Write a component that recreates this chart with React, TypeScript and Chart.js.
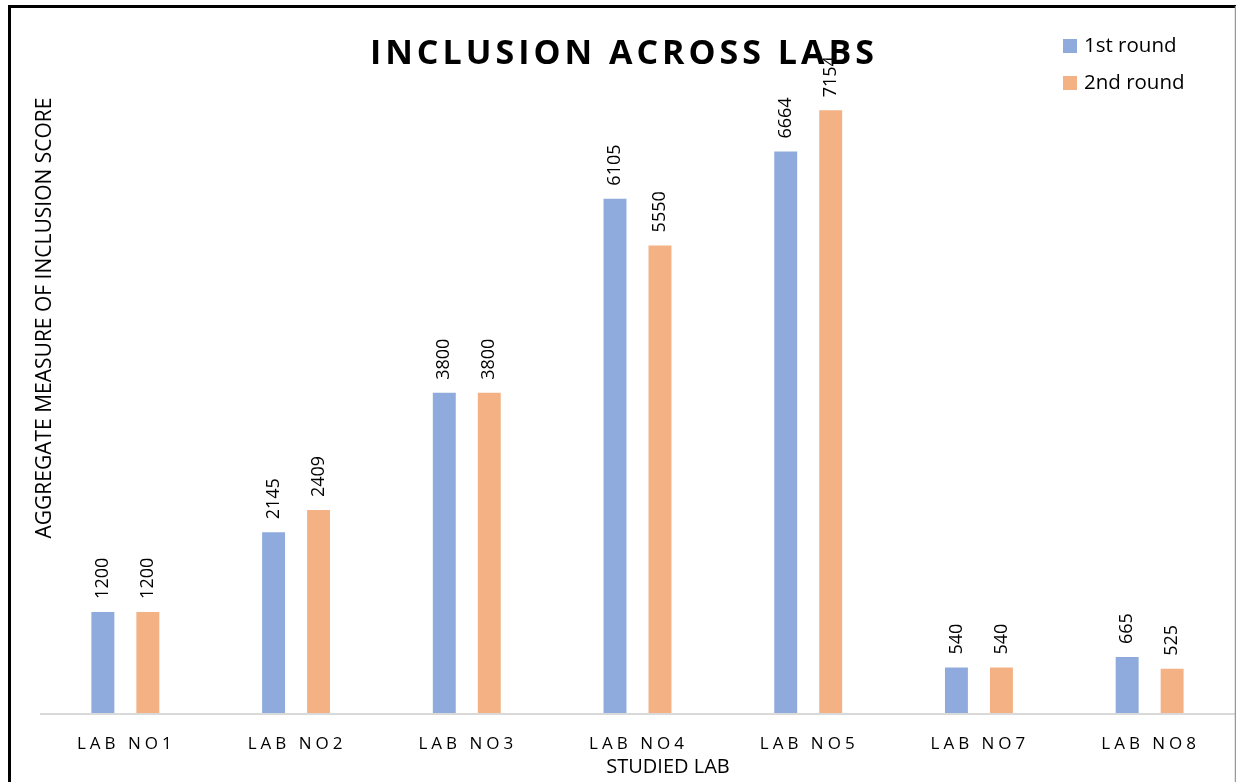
import React, { useEffect, useRef } from "react";
import { Chart, registerables } from "chart.js";

Chart.register(...registerables);

const labs = ["LAB NO1", "LAB NO2", "LAB NO3", "LAB NO4", "LAB NO5", "LAB NO7", "LAB NO8"];
const round1 = [1200, 2145, 3800, 6105, 6664, 540, 665];
const round2 = [1200, 2409, 3800, 5550, 7154, 540, 525];
const seriesNames = ["1st round", "2nd round"];
const seriesColors = ["#8FAADC", "#F4B183"];
const chartTitle = "INCLUSION ACROSS LABS";
const xTitle = "STUDIED LAB";
const yTitle = "AGGREGATE MEASURE OF INCLUSION SCORE";
const yMax = 8000;

const FONT = "'Open Sans', 'Noto Sans', sans-serif";

const decorPlugin = {
  id: "decor",
  beforeDraw(chart: any) {
    const ctx = chart.ctx;
    ctx.save();
    ctx.fillStyle = "#ffffff";
    ctx.fillRect(0, 0, chart.width, chart.height);
    ctx.restore();
  },
  afterDraw(chart: any) {
    const ctx: CanvasRenderingContext2D = chart.ctx;
    const xs = chart.scales.x;
    const ys = chart.scales.y;
    const area = chart.chartArea;
    const W = chart.width;
    const H = chart.height;

    // axis line
    const y0 = ys.getPixelForValue(0);
    ctx.save();
    ctx.strokeStyle = "#D9D9D9";
    ctx.lineWidth = 2;
    ctx.beginPath();
    ctx.moveTo(area.left, y0 + 1);
    ctx.lineTo(W, y0 + 1);
    ctx.stroke();
    ctx.restore();

    // x tick labels
    ctx.save();
    ctx.fillStyle = "#000000";
    ctx.font = `17px ${FONT}`;
    (ctx as any).letterSpacing = "4px";
    ctx.textAlign = "center";
    ctx.textBaseline = "middle";
    labs.forEach((lab, i) => {
      ctx.fillText(lab, xs.getPixelForValue(i) + 1, 744);
    });
    ctx.restore();

    // data labels
    ctx.save();
    ctx.fillStyle = "#000000";
    ctx.font = `18px ${FONT}`;
    ctx.textAlign = "left";
    ctx.textBaseline = "middle";
    chart.data.datasets.forEach((ds: any, di: number) => {
      const meta = chart.getDatasetMeta(di);
      meta.data.forEach((el: any, i: number) => {
        ctx.save();
        ctx.translate(el.x, el.y - 13);
        ctx.rotate(-Math.PI / 2);
        ctx.fillText(String(ds.data[i]), 0, 0);
        ctx.restore();
      });
    });
    ctx.restore();

    // title
    ctx.save();
    ctx.fillStyle = "#000000";
    ctx.font = `bold 34px ${FONT}`;
    (ctx as any).letterSpacing = "4px";
    ctx.textAlign = "center";
    ctx.textBaseline = "middle";
    ctx.fillText(chartTitle, 624, 54);
    ctx.restore();

    // axis titles
    ctx.save();
    ctx.fillStyle = "#000000";
    ctx.font = `20px ${FONT}`;
    ctx.textAlign = "center";
    ctx.textBaseline = "middle";
    ctx.fillText(xTitle, 668, 767);
    ctx.font = `21px ${FONT}`;
    ctx.translate(45, 318);
    ctx.rotate(-Math.PI / 2);
    ctx.fillText(yTitle, 0, 0);
    ctx.restore();

    // legend
    ctx.save();
    ctx.font = `20.5px ${FONT}`;
    ctx.textAlign = "left";
    ctx.textBaseline = "middle";
    seriesNames.forEach((name, i) => {
      const cy = 46 + i * 37;
      ctx.fillStyle = seriesColors[i];
      ctx.fillRect(1063, cy - 7, 14, 14);
      ctx.fillStyle = "#000000";
      ctx.fillText(name, 1084, cy);
    });
    ctx.restore();

    // frame
    ctx.save();
    ctx.strokeStyle = "#000000";
    ctx.lineWidth = 3;
    ctx.beginPath();
    ctx.moveTo(9.5, H);
    ctx.lineTo(9.5, 6.5);
    ctx.lineTo(W, 6.5);
    ctx.stroke();
    ctx.strokeStyle = "#999999";
    ctx.lineWidth = 1.5;
    ctx.beginPath();
    ctx.moveTo(1235.5, 6);
    ctx.lineTo(1235.5, H);
    ctx.stroke();
    ctx.restore();
  },
};

export default function App() {
  const canvasRef = useRef<HTMLCanvasElement | null>(null);

  useEffect(() => {
    if (!canvasRef.current) return;
    const chart = new Chart(canvasRef.current, {
      type: "bar",
      data: {
        labels: labs,
        datasets: [
          { label: seriesNames[0], data: round1, backgroundColor: seriesColors[0] },
          { label: seriesNames[1], data: round2, backgroundColor: seriesColors[1] },
        ],
      },
      options: {
        responsive: true,
        maintainAspectRatio: false,
        animation: false,
        devicePixelRatio: 1,
        layout: { padding: { left: 40, right: 1, top: 39, bottom: 69 } },
        datasets: { bar: { categoryPercentage: 0.527, barPercentage: 0.51 } } as any,
        plugins: {
          legend: { display: false },
          title: { display: false },
          tooltip: { enabled: false },
        },
        scales: {
          x: { display: false, grid: { display: false } },
          y: { display: false, min: 0, max: yMax, grid: { display: false } },
        },
      },
      plugins: [decorPlugin],
    });
    return () => chart.destroy();
  }, []);

  return (
    <div style={{ position: "absolute", left: 0, top: 0, width: 1236, height: 782, background: "#fff" }}>
      <canvas ref={canvasRef} />
    </div>
  );
}
